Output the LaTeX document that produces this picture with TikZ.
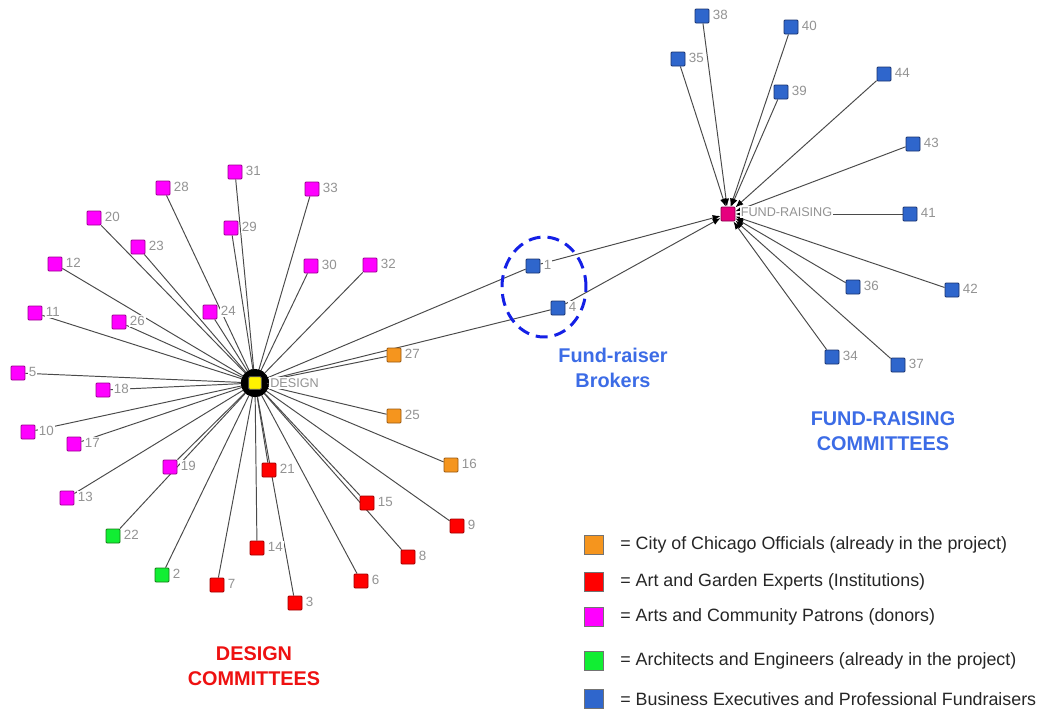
\documentclass[tikz,border=0pt]{standalone}
\usepackage{fontspec}
\setmainfont{Liberation Sans}
\usetikzlibrary{arrows.meta}
\pgfdeclarelayer{bg}
\pgfsetlayers{bg,main}

\definecolor{cMag}{HTML}{FF00FF}\definecolor{cMagD}{HTML}{9A0090}
\definecolor{cRed}{HTML}{FF0000}\definecolor{cRedD}{HTML}{A00000}
\definecolor{cOra}{HTML}{F5951E}\definecolor{cOraD}{HTML}{9A5A12}
\definecolor{cGrn}{HTML}{11EE33}\definecolor{cGrnD}{HTML}{177A17}
\definecolor{cBlu}{HTML}{2F66CC}\definecolor{cBluD}{HTML}{1A3470}
\definecolor{cHub}{HTML}{E6007E}
\definecolor{labgray}{HTML}{939393}
\definecolor{edgegray}{HTML}{4A4A4A}
\definecolor{titleRed}{HTML}{EE1111}
\definecolor{titleBlue}{HTML}{3C6CE6}
\definecolor{ringBlue}{HTML}{1420E6}

\tikzset{
  sq/.style={rectangle, minimum size=0.28cm, inner sep=0pt, rounded corners=0.6pt, line width=0.5pt},
  mag/.style={sq, fill=cMag, draw=cMagD},
  red/.style={sq, fill=cRed, draw=cRedD},
  ora/.style={sq, fill=cOra, draw=cOraD},
  grn/.style={sq, fill=cGrn, draw=cGrnD},
  blu/.style={sq, fill=cBlu, draw=cBluD},
  lab/.style={font=\fontsize{7.6}{9}\selectfont, text=labgray, fill=white, inner sep=0.6pt, anchor=west},
  edge/.style={draw=edgegray, line width=0.55pt, -{Latex[length=4.5pt, width=3.6pt, color=black]}},
  into ring/.style={shorten >=-4pt},
  legbox/.style={rectangle, minimum size=0.37cm, inner sep=0pt, line width=0.5pt},
  legtext/.style={font=\fontsize{10.15}{12}\selectfont, text=black!85, anchor=west, inner sep=0pt},
  title/.style={font=\fontsize{11.3}{14.2}\selectfont\bfseries, align=center},
  broker ring/.style={draw=ringBlue, line width=1.7pt, dash pattern=on 6.8pt off 4pt}
}

\begin{document}
\begin{tikzpicture}[x=0.02cm, y=-0.02cm]
\useasboundingbox (0,0) rectangle (1044,711);

% hubs
\node[circle, fill=black, minimum size=0.5cm, inner sep=0pt] (design) at (255,383) {};
\node[sq, fill=yellow, draw=black!60, minimum size=0.25cm] (designc) at (design) {};
\node[lab, font=\fontsize{7.2}{8}\selectfont] (ldesign) at ([shift={(1,0)}]design.east) {DESIGN};

\node[sq, fill=cHub, draw=cHub!60!black] (fr) at (728,214) {};
\node[lab, font=\fontsize{7.2}{8}\selectfont] (lfr) at ([shift={(4,-2)}]fr.east) {FUND-RAISING};

% members of the design committees
\foreach \n/\x/\y/\c in {
  31/235/172/mag, 28/163/188/mag, 33/312/189/mag, 20/94/218/mag, 29/231/228/mag,
  23/138/247/mag, 12/55/264/mag, 30/311/266/mag, 32/370/265/mag, 24/210/312/mag,
  26/119/322/mag, 11/35/313/mag, 5/18/373/mag, 18/103/390/mag, 10/28/432/mag,
  17/74/444/mag, 19/170/467/mag, 13/67/498/mag,
  22/113/536/grn, 2/162/575/grn,
  27/394/355/ora, 25/394/416/ora, 16/451/465/ora,
  21/269/470/red, 15/367/503/red, 9/457/526/red, 14/257/548/red, 8/408/557/red,
  6/361/581/red, 7/217/585/red, 3/295/603/red}
{
  \node[\c] (n\n) at (\x,\y) {};
  \node[lab] (l\n) at ([shift={(2,-1)}]n\n.east) {\n};
}

% brokers and fund-raising committees
\foreach \n/\x/\y in {
  1/533/266, 4/558/308,
  38/702/16, 40/791/27, 35/678/59, 44/884/74, 39/781/92, 43/913/144,
  41/910/214, 36/853/287, 42/952/290, 34/832/357, 37/898/365}
{
  \node[blu] (n\n) at (\x,\y) {};
  \node[lab] (l\n) at ([shift={(2,-1)}]n\n.east) {\n};
}

% connectors, under the nodes
\begin{pgfonlayer}{bg}
  \fill[white] (0,0) rectangle (1044,711);
  \foreach \n in {31,28,33,20,29,23,12,30,32,24,26,11,5,18,10,17,19,13,
                  22,2,27,25,16,21,15,9,14,8,6,7,3,1,4}
    \draw[edge, into ring] (n\n) -- (design);
  \foreach \n in {1,4,38,40,35,44,39,43,41,36,42,34,37}
    \draw[edge] (n\n) -- (fr);
\end{pgfonlayer}

% brokers ring
\draw[broker ring] (544,287) ellipse [x radius=0.84cm, y radius=1cm];

% group titles
\node[title, text=titleRed] (tdesign) at (254,666) {DESIGN\\COMMITTEES};
\node[title, text=titleBlue] (tbrokers) at (613,368) {Fund-raiser\\Brokers};
\node[title, text=titleBlue] (tfr) at (883,431) {FUND-RAISING\\COMMITTEES};

% legend
\node[legbox, fill=cOra, draw=black!55] (k1) at (594,545) {};
\node[legbox, fill=cRed, draw=black!55] (k2) at (594,582) {};
\node[legbox, fill=cMag, draw=black!55] (k3) at (594,617) {};
\node[legbox, fill=cGrn, draw=black!55] (k4) at (594,661) {};
\node[legbox, fill=cBlu, draw=black!55] (k5) at (594,699) {};
\node[legtext] (kt1) at (620,545) {= City of Chicago Officials (already in the project)};
\node[legtext] (kt2) at (620,582) {= Art and Garden Experts (Institutions)};
\node[legtext] (kt3) at (620,617) {= Arts and Community Patrons (donors)};
\node[legtext] (kt4) at (620,661) {= Architects and Engineers (already in the project)};
\node[legtext] (kt5) at (620,699) {= Business Executives and Professional Fundraisers};
\end{tikzpicture}
\end{document}
